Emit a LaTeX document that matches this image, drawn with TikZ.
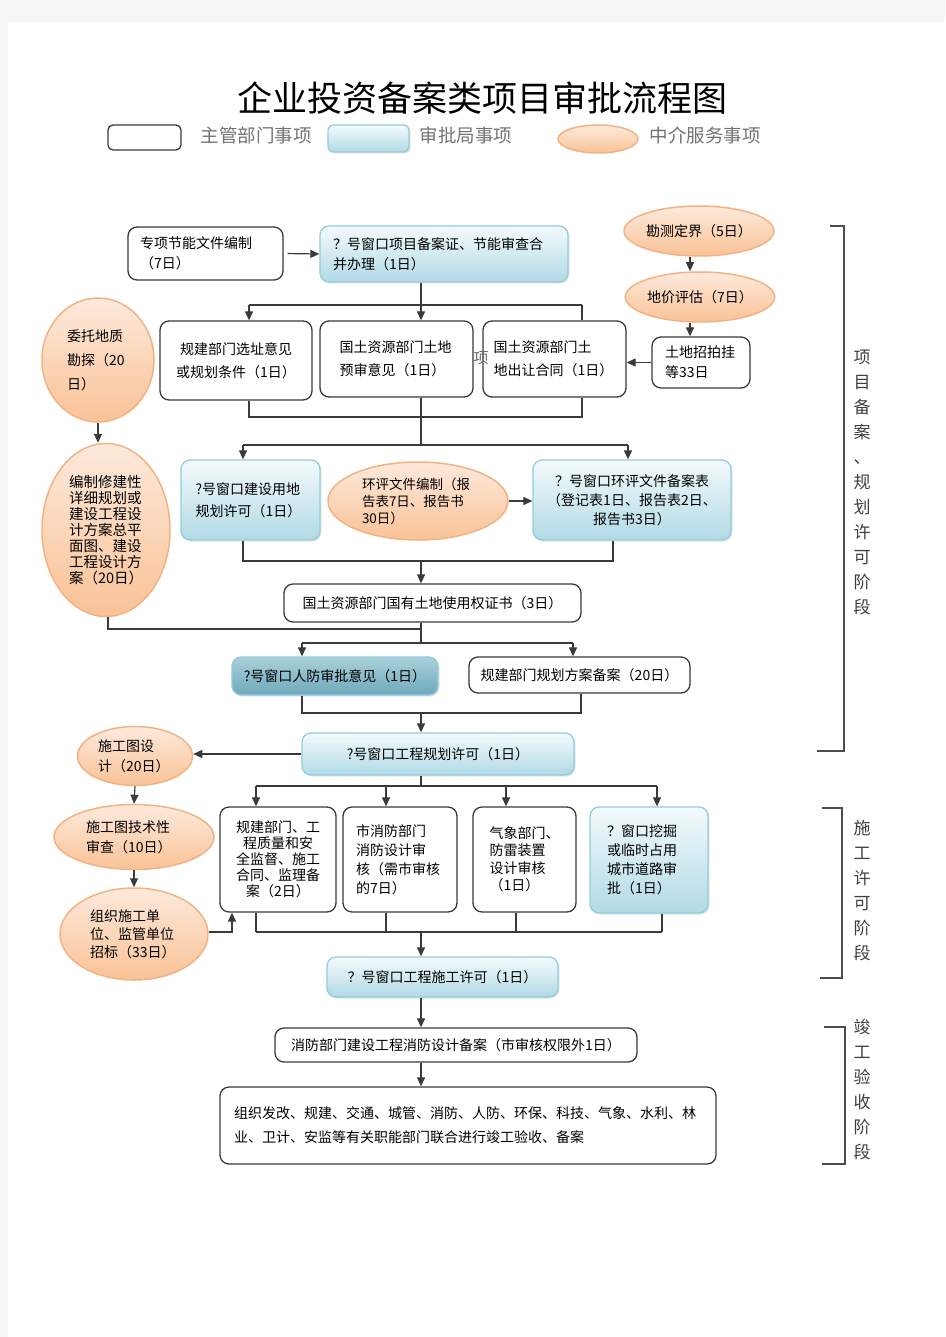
\documentclass[tikz,border=0pt]{standalone}
\usepackage{fontspec}
\setmainfont{Noto Sans CJK SC}
\usetikzlibrary{arrows.meta,shapes.geometric,shadows}

\definecolor{lnclr}{HTML}{3A3A3A}
\definecolor{spedge}{HTML}{92CDDC}
\definecolor{sptop}{HTML}{F4FAFC}
\definecolor{spbot}{HTML}{B1DAE6}
\definecolor{rftop}{HTML}{A9D0DB}
\definecolor{rfbot}{HTML}{6FA9BA}
\definecolor{zjedge}{HTML}{F2B384}
\definecolor{zjtop}{HTML}{FDEADC}
\definecolor{zjbot}{HTML}{F9C296}

\begin{document}
\begin{tikzpicture}[x=1pt,y=-1pt,
  txt/.style={font=\fontsize{14}{20}\selectfont},
  zg/.style={txt,draw=lnclr,line width=1.3pt,rounded corners=9pt,fill=white,inner sep=0pt},
  sp/.style={txt,draw=spedge,line width=1.3pt,rounded corners=9pt,top color=sptop,bottom color=spbot,inner sep=0pt,
    drop shadow={opacity=.2,shadow xshift=1.5pt,shadow yshift=-1.5pt}},
  zj/.style={txt,ellipse,draw=zjedge,line width=1.5pt,top color=zjtop,bottom color=zjbot,inner sep=0pt},
  ln/.style={draw=lnclr,line width=1.2pt},
  arr/.style={-{Triangle[length=9pt,width=8pt]}},
  legtxt/.style={font=\fontsize{18.5}{20}\selectfont,text=black!55},
  stage/.style={font=\fontsize{17}{25}\selectfont,text=black!75,align=center}]

  \useasboundingbox (0,0) rectangle (945,1337);
  \fill[gray!7] (0,0) rectangle (945,1337);
  \fill[white] (8,22) rectangle (945,1337);

  % title and legend
  \node[font=\fontsize{35}{40}\selectfont] (title) at (482,98) {企业投资备案类项目审批流程图};
  \node[zg,rounded corners=5pt,minimum width=73,minimum height=25] (lgzg) at (144.5,137.5) {};
  \node[legtxt] (lgzgt) at (256,135) {主管部门事项};
  \node[sp,rounded corners=5pt,minimum width=81,minimum height=27] (lgsp) at (368.5,138.5) {};
  \node[legtxt] (lgspt) at (466,135) {审批局事项};
  \node[zj,minimum width=80,minimum height=28] (lgzj) at (598,139) {};
  \node[legtxt] (lgzjt) at (705,135) {中介服务事项};

  % project filing / planning stage
  \node[zg,minimum width=155,minimum height=53,text width=131,align=left] (zxjn) at (205.5,253.5) {专项节能文件编制\\（7日）};
  \node[sp,minimum width=248,minimum height=56,text width=222,align=left] (ck1) at (444,254) {？号窗口项目备案证、节能审查合\\并办理（1日）};
  \node[zj,minimum width=150,minimum height=50] (kcdj) at (699,231) {勘测定界（5日）};
  \node[zj,minimum width=148,minimum height=50] (djpg) at (700,297) {地价评估（7日）};
  \node[zg,minimum width=98,minimum height=51,text width=72,align=left] (tdzp) at (701,362.5) {土地招拍挂\\等33日};

  \node[zg,font=\fontsize{14}{23}\selectfont,minimum width=152,minimum height=79,text width=130,align=center] (gjxz) at (236,360.5) {规建部门选址意见\\或规划条件（1日）};
  \node[zg,font=\fontsize{14}{23}\selectfont,minimum width=153,minimum height=76,text width=114,align=left] (gtys) at (396.5,359) {国土资源部门土地\\预审意见（1日）};
  \node[zg,font=\fontsize{14}{23}\selectfont,minimum width=143,minimum height=76,text width=122,align=left] (gtcr) at (554.5,359) {国土资源部门土\\地出让合同（1日）};
  \node[font=\fontsize{15}{15}\selectfont,text=black!60] (xiang) at (481,358) {项};

  \node[zj,font=\fontsize{14}{24}\selectfont,minimum width=112,minimum height=124,text width=62,align=left] (wtdz) at (98,360) {委托地质\\勘探（20\\日）};
  \node[zj,font=\fontsize{14.5}{16}\selectfont,minimum width=128,minimum height=173,text width=74,align=left] (bzxj) at (106,530)
    {编制修建性\\详细规划或\\建设工程设\\计方案总平\\面图、建设\\工程设计方\\案（20日）};

  \node[sp,font=\fontsize{14}{22}\selectfont,minimum width=139,minimum height=80,text width=110,align=left] (ck2) at (250.5,500) {?号窗口建设用地\\规划许可（1日）};
  \node[zj,font=\fontsize{13.5}{17}\selectfont,minimum width=180,minimum height=78,text width=112,align=left] (hpbz) at (418,501) {环评文件编制（报\\告表7日、报告书\\30日）};
  \node[sp,font=\fontsize{14}{19}\selectfont,minimum width=198,minimum height=80,text width=180,align=center] (ck3) at (632,500) {？号窗口环评文件备案表\\（登记表1日、报告表2日、\\报告书3日）};

  \node[zg,minimum width=297,minimum height=38] (gtsy) at (432.5,603) {国土资源部门国有土地使用权证书（3日）};
  \node[sp,top color=rftop,bottom color=rfbot,minimum width=206,minimum height=38] (rf) at (335,676) {?号窗口人防审批意见（1日）};
  \node[zg,minimum width=221,minimum height=36] (gjba) at (579.5,675) {规建部门规划方案备案（20日）};
  \node[sp,minimum width=272,minimum height=42] (ck4) at (438,754) {?号窗口工程规划许可（1日）};

  % construction permit stage
  \node[zj,minimum width=115,minimum height=59,text width=74,align=left] (sgtsj) at (135,756) {施工图设\\计（20日）};
  \node[zj,minimum width=160,minimum height=65,text width=96,align=left] (sgtsc) at (134,837) {施工图技术性\\审查（10日）};
  \node[zj,font=\fontsize{14}{18}\selectfont,minimum width=148,minimum height=92,text width=88,align=left] (zzsg) at (134,934) {组织施工单\\位、监管单位\\招标（33日）};

  \node[zg,font=\fontsize{14}{16}\selectfont,minimum width=116,minimum height=105,text width=100,align=center] (gjzl) at (278,859.5) {规建部门、工\\程质量和安\\全监督、施工\\合同、监理备\\案（2日）};
  \node[zg,font=\fontsize{14}{19}\selectfont,minimum width=114,minimum height=105,text width=88,align=left] (sxf) at (400,859.5) {市消防部门\\消防设计审\\核（需市审核\\的7日）};
  \node[zg,font=\fontsize{14}{17.5}\selectfont,minimum width=103,minimum height=105,text width=70,align=left] (qx) at (524.5,859.5) {气象部门、\\防雷装置\\设计审核\\（1日）};
  \node[sp,font=\fontsize{14}{19}\selectfont,minimum width=118,minimum height=106,text width=84,align=left] (ck5) at (649,860) {？窗口挖掘\\或临时占用\\城市道路审\\批（1日）};
  \node[sp,minimum width=231,minimum height=40] (ck6) at (442.5,977) {？号窗口工程施工许可（1日）};

  % completion stage
  \node[zg,minimum width=362,minimum height=34] (xfba) at (456,1045) {消防部门建设工程消防设计备案（市审核权限外1日）};
  \node[zg,font=\fontsize{14}{24}\selectfont,minimum width=496,minimum height=77,text width=468,align=left] (zzfg) at (468,1125.5)
    {组织发改、规建、交通、城管、消防、人防、环保、科技、气象、水利、林\\业、卫计、安监等有关职能部门联合进行竣工验收、备案};

  % connectors
  \coordinate (mx) at (421,0);
  \coordinate (rx) at (690,0);
  \draw[ln,arr,shorten <=4pt] (zxjn.east) -- (ck1.west);

  \coordinate (b1a) at (249,305); \coordinate (b1b) at (582,305);
  \draw[ln] (b1a) -- (b1b);
  \draw[ln,arr] (ck1.south -| mx) -- (gtys.north -| mx);
  \draw[ln,arr] (b1a) -- (gjxz.north -| b1a);
  \draw[ln] (b1b) -- (gtcr.north -| b1b);
  \draw[ln,arr] (kcdj.south -| rx) -- (djpg.north -| rx);
  \draw[ln,arr] (djpg.south -| rx) -- (tdzp.north -| rx);
  \draw[ln,arr] (tdzp.west) -- (gtcr.east |- tdzp.west);

  \coordinate (b2a) at (249,417); \coordinate (b2b) at (582,417);
  \draw[ln] (gjxz.south -| b2a) -- (b2a) -- (b2b) -- (gtcr.south -| b2b);
  \draw[ln] (gtys.south -| mx) -- (mx |- b2a);
  \coordinate (b3a) at (243,445); \coordinate (b3b) at (628,445);
  \draw[ln] (mx |- b2a) -- (mx |- b3a);
  \draw[ln] (b3a) -- (b3b);
  \draw[ln,arr] (b3a) -- (ck2.north -| b3a);
  \draw[ln,arr] (b3b) -- (ck3.north -| b3b);
  \draw[ln,arr] (wtdz.south) -- (wtdz.south |- bzxj.north);
  \draw[ln,arr] (hpbz.east) -- (ck3.west |- hpbz.east);

  \coordinate (b4a) at (243,561); \coordinate (b4b) at (613,561);
  \draw[ln] (ck2.south -| b4a) -- (b4a) -- (b4b) -- (ck3.south -| b4b);
  \draw[ln,arr] (mx |- b4a) -- (gtsy.north -| mx);

  \coordinate (b5a) at (108,629);
  \coordinate (b6a) at (302,643); \coordinate (b6b) at (573,643);
  \draw[ln] (bzxj.south -| b5a) -- (b5a) -- (mx |- b5a);
  \draw[ln] (gtsy.south -| mx) -- (mx |- b6a);
  \draw[ln] (b6a) -- (b6b);
  \draw[ln,arr] (b6a) -- (rf.north -| b6a);
  \draw[ln,arr] (b6b) -- (gjba.north -| b6b);

  \coordinate (b7a) at (302,713); \coordinate (b7b) at (581,713);
  \draw[ln] (rf.south -| b7a) -- (b7a) -- (b7b) -- (gjba.south -| b7b);
  \draw[ln,arr] (mx |- b7a) -- (ck4.north -| mx);
  \draw[ln,arr] (ck4.west) -- (sgtsj.east |- ck4.west);
  \draw[ln,arr] (sgtsj.south) -- (sgtsc.north);
  \draw[ln,arr] (sgtsc.south) -- (zzsg.north);
  \coordinate (b8) at (232,932);
  \draw[ln,arr] (zzsg.east |- b8) -- (b8) -- (gjzl.south -| b8);

  \coordinate (b9a) at (256,786); \coordinate (b9b) at (657,786);
  \draw[ln] (ck4.south -| mx) -- (mx |- b9a);
  \draw[ln] (b9a) -- (b9b);
  \foreach \n/\xx in {gjzl/256,sxf/386,qx/506,ck5/657}{
    \coordinate (t) at (\xx,786);
    \draw[ln,arr] (t) -- (\n.north -| t);
  }
  \coordinate (b10a) at (256,932); \coordinate (b10b) at (662,932);
  \draw[ln] (b10a) -- (b10b);
  \foreach \n/\xx in {gjzl/256,sxf/386,qx/516,ck5/662}{
    \coordinate (t) at (\xx,932);
    \draw[ln] (\n.south -| t) -- (t);
  }
  \draw[ln,arr] (mx |- b10a) -- (ck6.north -| mx);
  \draw[ln,arr] (ck6.south -| mx) -- (xfba.north -| mx);
  \draw[ln,arr] (xfba.south -| mx) -- (zzfg.north -| mx);

  % stage brackets
  \draw[ln,draw=black!70] (830,226) -- (844,226) -- (844,751) -- (817,751);
  \draw[ln,draw=black!70] (822,808) -- (842,808) -- (842,978) -- (820,978);
  \draw[ln,draw=black!70] (824,1027) -- (845,1027) -- (845,1164) -- (822,1164);
  \node[stage] (jd1) at (862,482) {项\\目\\备\\案\\、\\规\\划\\许\\可\\阶\\段};
  \node[stage] (jd2) at (862,891) {施\\工\\许\\可\\阶\\段};
  \node[stage] (jd3) at (862,1089.5) {竣\\工\\验\\收\\阶\\段};
\end{tikzpicture}
\end{document}
